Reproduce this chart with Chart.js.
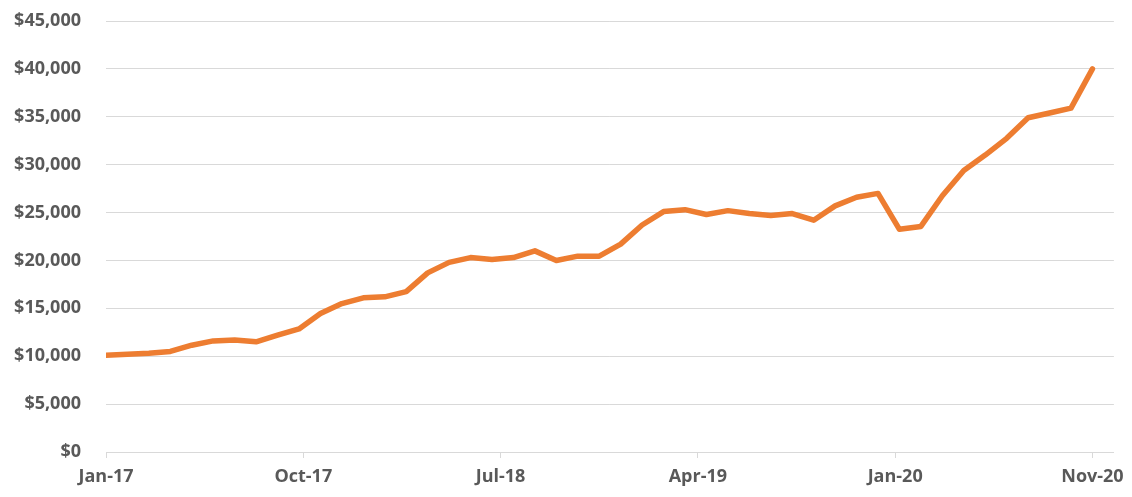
<!DOCTYPE html>
<html>
<head>
<meta charset="utf-8">
<script src="https://cdn.jsdelivr.net/npm/chart.js@4"></script>
<style>
    html, body { margin: 0; padding: 0; background: #fff; }
    #wrap { width: 1132px; height: 497px; }
</style>
</head>
<body>
<div id="wrap"><canvas id="lineChart"></canvas></div>
<script>
// monthly values, Jan-17 .. Nov-20
var values = [10100, 10200, 10300, 10500, 11150, 11600, 11700, 11500, 12200, 12850,
    14450, 15500, 16100, 16200, 16750, 18700, 19800, 20300, 20100, 20300,
    21000, 20000, 20450, 20450, 21700, 23700, 25100, 25300, 24800, 25200,
    24900, 24700, 24900, 24200, 25700, 26600, 27000, 23250, 23550, 26750,
    29400, 31000, 32750, 34900, 35400, 35900, 40000];

var tickLabels = ["Jan-17", "Oct-17", "Jul-18", "Apr-19", "Jan-20", "Nov-20"];
var yTicks = [0, 5000, 10000, 15000, 20000, 25000, 30000, 35000, 40000, 45000];

// x ticks are spread evenly from first to last point
let tickPos = tickLabels.map((l, k) => k * (values.length - 1) / (tickLabels.length - 1));

let grey = '#595959';
let gridColor = '#d9d9d9';
let font = { family: "'Open Sans', sans-serif", size: 18, weight: 'bold' };

let ctx = document.getElementById("lineChart");
var chart = new Chart(ctx, {
    type: 'line',
    data: {
        datasets: [{
            label: 'Value',
            data: values.map((v, i) => ({ x: i, y: v })),
            borderColor: '#ED7D31',
            borderWidth: 5.5,
            borderJoinStyle: 'round',
            borderCapStyle: 'round',
            pointRadius: 0,
            tension: 0,
            fill: false
        }]
    },
    options: {
        responsive: true,
        maintainAspectRatio: false,
        animation: false,
        layout: { padding: { top: 21, right: 17, left: 0, bottom: 0 } },
        plugins: {
            legend: { display: false },
            tooltip: { enabled: false }
        },
        scales: {
            x: {
                type: 'linear',
                min: 0,
                max: values.length,
                afterBuildTicks: (scale) => {
                    scale.ticks = tickPos.map(v => ({ value: v }));
                },
                afterFit: (scale) => { scale.height = 45; },
                grid: {
                    drawOnChartArea: false,
                    drawTicks: true,
                    tickLength: 6,
                    color: gridColor
                },
                border: { color: gridColor, width: 1 },
                ticks: {
                    autoSkip: false,
                    maxRotation: 0,
                    padding: 8,
                    color: grey,
                    font: font,
                    callback: (value, index) => tickLabels[index]
                }
            },
            y: {
                min: yTicks[0],
                max: yTicks[yTicks.length - 1],
                afterBuildTicks: (scale) => {
                    scale.ticks = yTicks.map(v => ({ value: v }));
                },
                afterFit: (scale) => {
                    scale.width = 106;
                    // tick padding would otherwise push the plot down
                    scale.paddingTop = 0;
                    scale.paddingBottom = 0;
                },
                grid: {
                    color: gridColor,
                    drawTicks: false
                },
                border: { display: false },
                ticks: {
                    padding: 25,
                    color: grey,
                    font: font,
                    callback: (value) => '$' + value.toLocaleString('en-US')
                }
            }
        }
    }
});
</script>
</body>
</html>
